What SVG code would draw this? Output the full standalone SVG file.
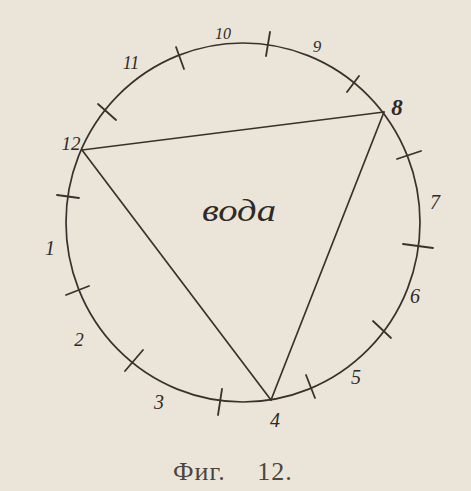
<svg xmlns="http://www.w3.org/2000/svg" width="471" height="491" viewBox="0 0 471 491">
  <style>
    .ink { fill: none; stroke: #38322c; stroke-width: 1.7; stroke-linecap: round; stroke-linejoin: round; }
    .tick { fill: none; stroke: #38322c; stroke-width: 1.8; stroke-linecap: round; }
    .num { font-family: "Liberation Serif", "DejaVu Serif", serif; font-style: italic; fill: #2f2a25; text-anchor: middle; }
    .cap { font-family: "Liberation Serif", "DejaVu Serif", serif; fill: #4a4540; }
  </style>
  <rect x="0" y="0" width="471" height="491" fill="#ebe5d9"/>

  <g id="circle">
    <ellipse class="ink" cx="243" cy="222.5" rx="177" ry="179.5"/>
  </g>

  <g id="ticks">
    <line class="tick" x1="98" y1="104" x2="116" y2="120"/>
    <line class="tick" x1="176" y1="47" x2="184" y2="69"/>
    <line class="tick" x1="270" y1="32" x2="266" y2="56"/>
    <line class="tick" x1="359" y1="76" x2="347" y2="92"/>
    <line class="tick" x1="421" y1="151" x2="397" y2="159"/>
    <line class="tick" x1="403" y1="244" x2="433" y2="248"/>
    <line class="tick" x1="391" y1="338" x2="373" y2="321"/>
    <line class="tick" x1="315" y1="398" x2="306" y2="375"/>
    <line class="tick" x1="218" y1="415" x2="222" y2="389"/>
    <line class="tick" x1="125" y1="371" x2="143" y2="350"/>
    <line class="tick" x1="66" y1="295" x2="89" y2="286"/>
    <line class="tick" x1="57" y1="195" x2="79" y2="198"/>
  </g>

  <g id="connectors">
    <line class="ink" x1="82" y1="150" x2="384" y2="112"/>
    <line class="ink" x1="82" y1="150" x2="271" y2="400"/>
    <line class="ink" x1="384" y1="112" x2="271" y2="400"/>
  </g>

  <g id="node-12"><text class="num" x="71" y="150" font-size="19">12</text></g>
  <g id="node-1"><text class="num" x="50" y="255" font-size="20">1</text></g>
  <g id="node-2"><text class="num" x="79" y="346" font-size="19">2</text></g>
  <g id="node-3"><text class="num" x="159" y="409" font-size="20">3</text></g>
  <g id="node-4"><text class="num" x="275" y="427" font-size="20">4</text></g>
  <g id="node-5"><text class="num" x="356" y="384" font-size="20">5</text></g>
  <g id="node-6"><text class="num" x="415" y="303" font-size="20">6</text></g>
  <g id="node-7"><text class="num" x="435" y="209" font-size="20">7</text></g>
  <g id="node-8"><text class="num" x="397" y="115" font-size="23" font-weight="bold">8</text></g>
  <g id="node-9"><text class="num" x="317" y="52" font-size="17">9</text></g>
  <g id="node-10"><text class="num" x="223" y="39" font-size="16">10</text></g>
  <g id="node-11"><text class="num" x="131" y="69" font-size="18">11</text></g>

  <g id="center-label">
    <text class="num" x="239" y="221" font-size="32" textLength="74" lengthAdjust="spacingAndGlyphs">вода</text>
  </g>

  <g id="caption">
    <text class="cap" x="173" y="480" font-size="26" letter-spacing="1">Фиг. <tspan dx="24">12.</tspan></text>
  </g>
</svg>
